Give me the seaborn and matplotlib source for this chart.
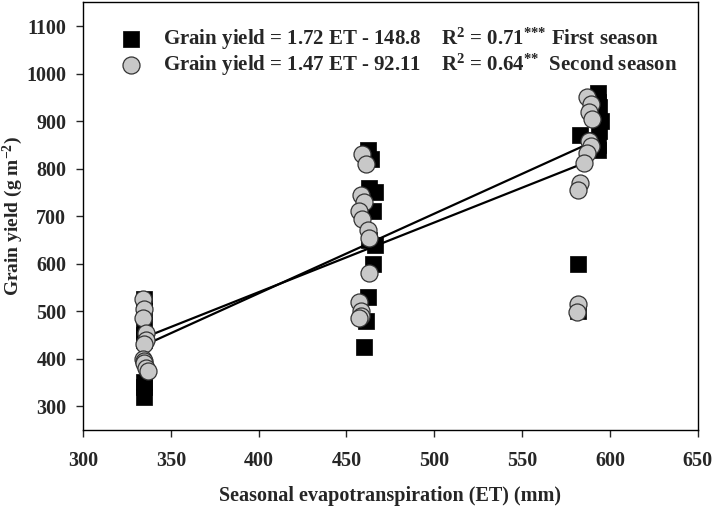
import numpy as np
import pandas as pd
import matplotlib
matplotlib.use("Agg")
import matplotlib.pyplot as plt
import seaborn as sns

# Data (some squares sit behind the circles)
et_first = [335, 335, 335, 335, 335, 335, 335, 335,
            462, 464, 463, 466, 465, 463, 466, 465, 462, 461, 460,
            593, 591, 595, 594, 589, 593, 594, 592, 591, 593, 593, 583, 582, 582]
gy_first = [525, 500, 470, 450, 440, 350, 340, 320,
            840, 820, 760, 750, 710, 650, 640, 600, 530, 480, 425,
            960, 945, 900, 880, 860, 940, 930, 920, 910, 850, 840, 870, 600, 500]

et_second = [334, 335, 334, 336, 336, 335, 334, 335, 335, 336, 337,
             459, 461, 458, 460, 457, 459, 462, 463, 463, 457, 458, 458, 457,
             587, 589, 588, 590, 588, 589, 587, 585, 583, 582, 582, 581]
gy_second = [525, 505, 485, 455, 440, 430, 400, 395, 390, 380, 375,
             830, 810, 745, 730, 710, 695, 670, 655, 580, 520, 500, 490, 485,
             950, 935, 920, 905, 858, 848, 833, 812, 770, 755, 515, 498]

labels = [r"Grain yield = 1.72 ET - 148.8    R$^2$ = 0.71$^{{*}{*}{*}}$ First season",
          r"Grain yield = 1.47 ET - 92.11    R$^2$ = 0.64$^{{*}{*}}$  Second season"]

sns.set_style("ticks")
plt.rcParams['font.family'] = ['Liberation Serif', 'DejaVu Serif']
plt.rcParams['font.weight'] = 'bold'
plt.rcParams['mathtext.fontset'] = 'custom'
plt.rcParams['mathtext.rm'] = 'Liberation Serif:bold'
plt.rcParams['mathtext.it'] = 'Liberation Serif:bold'
plt.rcParams['mathtext.bf'] = 'Liberation Serif:bold'

df1 = pd.DataFrame({"ET": et_first, "GY": gy_first})
df2 = pd.DataFrame({"ET": et_second, "GY": gy_second})

fig = plt.figure(figsize=(7.12, 5.08), dpi=100)
ax = fig.add_axes([0.1166, 0.1535, 0.8634, 0.842])

# regression lines
sns.regplot(data=df1, x="ET", y="GY", scatter=False, ci=None, ax=ax,
            line_kws={"color": "black", "lw": 1.6, "zorder": 1})
sns.regplot(data=df2, x="ET", y="GY", scatter=False, ci=None, ax=ax,
            line_kws={"color": "black", "lw": 1.6, "zorder": 1})

# points
sns.scatterplot(data=df1, x="ET", y="GY", marker="s", s=130, color="black",
                edgecolor="black", linewidth=0.5, ax=ax, zorder=2, label=labels[0])
sns.scatterplot(data=df2, x="ET", y="GY", marker="o", s=150, color="#c8c8c8",
                edgecolor="#333333", linewidth=0.9, ax=ax, zorder=3, label=labels[1])

ax.set_xlim(300, 650)
ax.set_ylim(250, 1150)
ax.set_xticks(np.arange(300, 651, 50))
ax.set_yticks(np.arange(300, 1101, 100))
ax.tick_params(axis="both", direction="out", length=5, width=1, labelsize=14.5)
ax.tick_params(axis="x", pad=10)
ax.tick_params(axis="y", pad=7)
for lab in ax.get_xticklabels() + ax.get_yticklabels():
    lab.set_fontweight("bold")
for sp in ax.spines.values():
    sp.set_visible(True)
    sp.set_linewidth(1)
    sp.set_color("black")

ax.set_xlabel("Seasonal evapotranspiration (ET) (mm)", fontsize=14.5,
              fontweight="bold", labelpad=11)
ax.set_ylabel(r"Grain yield (g m$^{-2}$)", fontsize=14, fontweight="bold")
ax.yaxis.set_label_coords(-0.094, 0.5)

leg = ax.legend(loc="upper left", bbox_to_anchor=(0.048, 0.965), frameon=False,
                prop={"size": 15, "weight": "bold"}, handlelength=1.0,
                handletextpad=1.0, labelspacing=0.0, borderaxespad=0)

fig.savefig("out.png", dpi=100)
